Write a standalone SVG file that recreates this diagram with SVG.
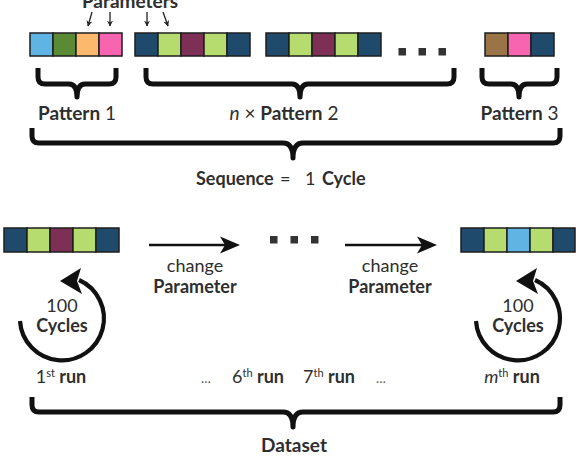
<svg xmlns="http://www.w3.org/2000/svg" width="576" height="460" viewBox="0 0 576 460">
<defs>
<style>
text{font-family:Lato,"Open Sans","DejaVu Sans",sans-serif;fill:#2e2e2e}
.b{font-weight:bold}
.r{font-weight:normal}
.lbl{font-size:19px}
.sm{font-size:18px}
.sq{stroke:#1e1e1e;stroke-width:1.5}
.lb{fill:#5fb4e4}.gr{fill:#5a8a34}.or{fill:#fcb86c}.pk{fill:#f765b0}.db{fill:#1f4a6c}.li{fill:#b6dc70}.mr{fill:#7e2f56}.br{fill:#9a7447}
.brace{fill:none;stroke:#111;stroke-width:5;stroke-linejoin:round}
.dot{fill:#333}
.thin{stroke:#222;stroke-width:1.3;fill:none;marker-end:url(#sm)}
.thick{stroke:#111;stroke-width:2.6;fill:none}
.circ{stroke:#111;stroke-width:4.2;fill:none}
.head{fill:#111}
.ell{fill:#555;font-size:13px}
</style>
<marker id="sm" viewBox="0 0 10 10" refX="9" refY="5" markerWidth="6" markerHeight="6" markerUnits="userSpaceOnUse" orient="auto"><path d="M0,0 L10,5 L0,10 L3,5 Z" fill="#222"/></marker>
</defs>

<g id="params-label"><text class="lbl b" x="130" y="8" text-anchor="middle">Parameters</text></g>

<g id="connectors">
<line class="thin" x1="92" y1="12" x2="88" y2="26"/>
<line class="thin" x1="110" y1="12" x2="110" y2="26"/>
<line class="thin" x1="147" y1="12" x2="147" y2="26"/>
<line class="thin" x1="163" y1="12" x2="168" y2="26"/>
<line class="thick" x1="149" y1="245" x2="226" y2="245"/>
<path class="head" d="M240,245 L220,236.5 L225,245 L220,253.5 Z"/>
<line class="thick" x1="345" y1="245" x2="422" y2="245"/>
<path class="head" d="M437,245 L417,236.5 L422,245 L417,253.5 Z"/>
<path class="circ" d="M20,321 A42,42 0 1 0 79,280"/>
<path class="head" d="M60,281 L81,268 L77,281 L82,294 Z"/>
<path class="circ" d="M476,321 A42,42 0 1 0 535,280"/>
<path class="head" d="M516,281 L537,268 L533,281 L538,294 Z"/>
</g>

<g id="pattern1">
<rect class="sq lb" x="30" y="33" width="23" height="23"/>
<rect class="sq gr" x="53" y="33" width="23" height="23"/>
<rect class="sq or" x="76" y="33" width="23" height="23"/>
<rect class="sq pk" x="99" y="33" width="23" height="23"/>
</g>
<g id="pattern2a">
<rect class="sq db" x="135" y="33" width="23" height="23"/>
<rect class="sq li" x="158" y="33" width="23" height="23"/>
<rect class="sq mr" x="181" y="33" width="23" height="23"/>
<rect class="sq li" x="204" y="33" width="23" height="23"/>
<rect class="sq db" x="227" y="33" width="23" height="23"/>
</g>
<g id="pattern2b">
<rect class="sq db" x="266" y="33" width="23" height="23"/>
<rect class="sq li" x="289" y="33" width="23" height="23"/>
<rect class="sq mr" x="312" y="33" width="23" height="23"/>
<rect class="sq li" x="335" y="33" width="23" height="23"/>
<rect class="sq db" x="358" y="33" width="23" height="23"/>
</g>
<g id="dots-top">
<rect class="dot" x="398.5" y="48" width="7.5" height="7.5"/>
<rect class="dot" x="418.5" y="48" width="7.5" height="7.5"/>
<rect class="dot" x="438.5" y="48" width="7.5" height="7.5"/>
</g>
<g id="pattern3">
<rect class="sq br" x="485" y="33" width="23" height="23"/>
<rect class="sq pk" x="508" y="33" width="23" height="23"/>
<rect class="sq db" x="531" y="33" width="23" height="23"/>
</g>

<g id="brace-p1">
<path class="brace" d="M38,68 V77 Q38,84 45,84 H69 Q77,84 77,97 Q77,84 85,84 H109 Q116,84 116,77 V68"/>
<text class="lbl" x="77" y="120" text-anchor="middle"><tspan class="b">Pattern</tspan> <tspan class="r">1</tspan></text>
</g>
<g id="brace-p2">
<path class="brace" d="M146,68 V77 Q146,84 153,84 H292 Q300,84 300,97 Q300,84 308,84 H447 Q454,84 454,77 V68"/>
<text class="lbl" x="284" y="120" text-anchor="middle"><tspan class="r" font-style="italic">n</tspan><tspan class="r"> × </tspan><tspan class="b">Pattern</tspan> <tspan class="r">2</tspan></text>
</g>
<g id="brace-p3">
<path class="brace" d="M482,68 V77 Q482,84 489,84 H511 Q519,84 519,97 Q519,84 527,84 H550 Q557,84 557,77 V68"/>
<text class="lbl" x="519.5" y="120" text-anchor="middle"><tspan class="b">Pattern</tspan> <tspan class="r">3</tspan></text>
</g>

<g id="brace-sequence">
<path class="brace" d="M32,128 V136 Q32,143 39,143 H283 Q293,143 293,158 Q293,143 303,143 H553 Q560,143 560,136 V128"/>
<text class="sm" y="185"><tspan class="b" x="196">Sequence</tspan><tspan class="r" x="280">=</tspan><tspan class="r" x="305">1</tspan><tspan class="b" x="322">Cycle</tspan></text>
</g>

<g id="run-first">
<rect class="sq db" x="4" y="228" width="23" height="24"/>
<rect class="sq li" x="27" y="228" width="23" height="24"/>
<rect class="sq mr" x="50" y="228" width="23" height="24"/>
<rect class="sq li" x="73" y="228" width="23" height="24"/>
<rect class="sq db" x="96" y="228" width="23" height="24"/>
</g>
<g id="dots-bottom">
<rect class="dot" x="270" y="236" width="7.5" height="7.5"/>
<rect class="dot" x="290.5" y="236" width="7.5" height="7.5"/>
<rect class="dot" x="311" y="236" width="7.5" height="7.5"/>
</g>
<g id="run-last">
<rect class="sq db" x="461" y="228" width="23" height="24"/>
<rect class="sq li" x="484" y="228" width="23" height="24"/>
<rect class="sq lb" x="507" y="228" width="23" height="24"/>
<rect class="sq li" x="530" y="228" width="23" height="24"/>
<rect class="sq db" x="553" y="228" width="22" height="24"/>
</g>

<g id="change1">
<text class="sm r" x="195" y="272" text-anchor="middle">change</text>
<text class="sm b" x="195" y="293" text-anchor="middle">Parameter</text>
</g>
<g id="change2">
<text class="sm r" x="390" y="272" text-anchor="middle">change</text>
<text class="sm b" x="390" y="293" text-anchor="middle">Parameter</text>
</g>

<g id="cycles-left">
<text class="sm r" x="62" y="312" text-anchor="middle">100</text>
<text class="sm b" x="62" y="332" text-anchor="middle">Cycles</text>
</g>
<g id="cycles-right">
<text class="sm r" x="518" y="312" text-anchor="middle">100</text>
<text class="sm b" x="518" y="332" text-anchor="middle">Cycles</text>
</g>

<g id="run-labels" class="sm">
<text x="61" y="383" text-anchor="middle"><tspan class="r">1</tspan><tspan class="r" font-size="11" dy="-6">st</tspan><tspan class="b" dy="6"> run</tspan></text>
<text class="r ell" x="206" y="383" text-anchor="middle">…</text>
<text x="258" y="383" text-anchor="middle"><tspan class="r">6</tspan><tspan class="r" font-size="11" dy="-6">th</tspan><tspan class="b" dy="6"> run</tspan></text>
<text x="329" y="383" text-anchor="middle"><tspan class="r">7</tspan><tspan class="r" font-size="11" dy="-6">th</tspan><tspan class="b" dy="6"> run</tspan></text>
<text class="r ell" x="381" y="383" text-anchor="middle">…</text>
<text x="512" y="383" text-anchor="middle"><tspan class="r" font-style="italic">m</tspan><tspan class="r" font-size="11" dy="-6">th</tspan><tspan class="b" dy="6"> run</tspan></text>
</g>

<g id="brace-dataset">
<path class="brace" d="M32,397 V405 Q32,412 39,412 H283 Q293,412 293,427 Q293,412 303,412 H553 Q560,412 560,405 V397"/>
<text class="lbl b" x="294" y="452" text-anchor="middle">Dataset</text>
</g>
</svg>
